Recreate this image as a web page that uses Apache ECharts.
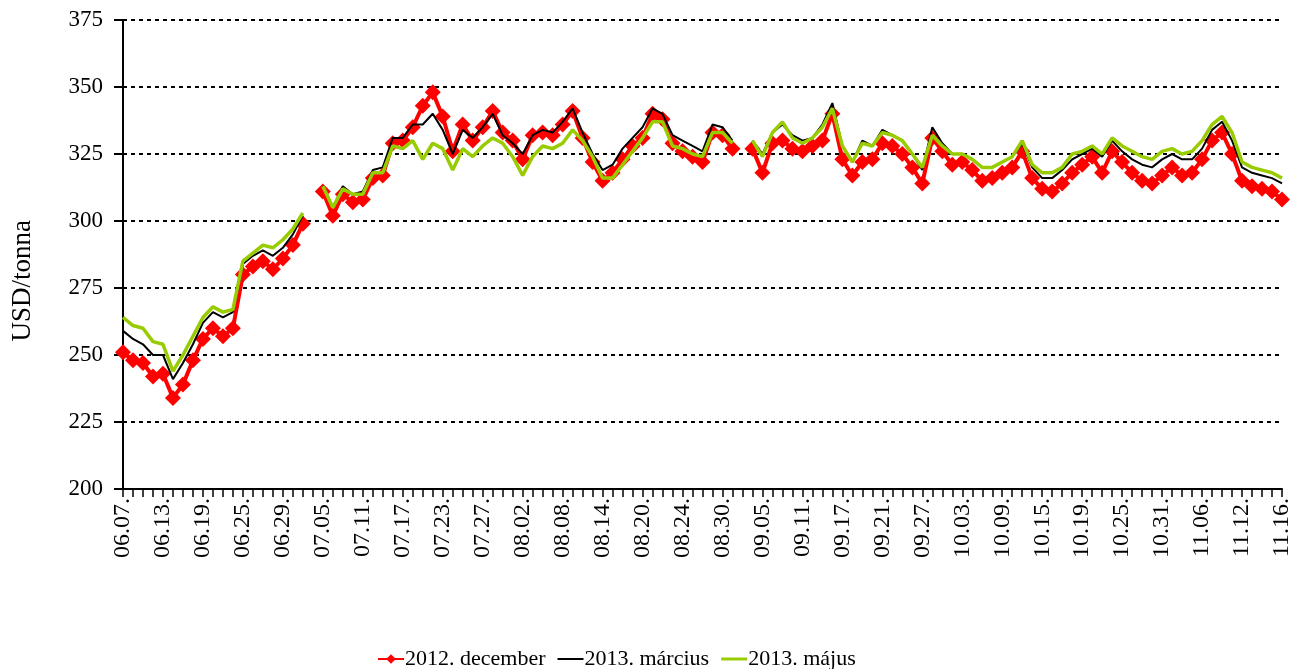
<!DOCTYPE html>
<html>
<head>
<meta charset="utf-8">
<script src="https://cdn.jsdelivr.net/npm/echarts@6/dist/echarts.min.js"></script>
<style>
  html, body { margin: 0; padding: 0; background: #fff; }
  #chart { width: 1294px; height: 669px; }
</style>
</head>
<body>
<div id="chart"></div>
<script>
/* napi adatok, USD/tonna */
var dates = [
  '06.07.','06.08.','06.11.','06.12.','06.13.','06.14.','06.15.','06.18.','06.19.','06.20.','06.21.','06.22.','06.25.','06.26.','06.27.','06.28.','06.29.',
  '07.02.','07.03.','07.04.','07.05.','07.06.','07.09.','07.10.','07.11.','07.12.','07.13.','07.16.','07.17.','07.18.','07.19.','07.20.','07.23.','07.24.','07.25.','07.26.','07.27.','07.30.','07.31.',
  '08.01.','08.02.','08.03.','08.06.','08.07.','08.08.','08.09.','08.10.','08.13.','08.14.','08.15.','08.16.','08.17.','08.20.','08.21.','08.22.','08.23.','08.24.','08.27.','08.28.','08.29.','08.30.','08.31.',
  '09.03.','09.04.','09.05.','09.06.','09.07.','09.10.','09.11.','09.12.','09.13.','09.14.','09.17.','09.18.','09.19.','09.20.','09.21.','09.24.','09.25.','09.26.','09.27.','09.28.',
  '10.01.','10.02.','10.03.','10.04.','10.05.','10.08.','10.09.','10.10.','10.11.','10.12.','10.15.','10.16.','10.17.','10.18.','10.19.','10.22.','10.23.','10.24.','10.25.','10.26.','10.29.','10.30.','10.31.',
  '11.01.','11.02.','11.05.','11.06.','11.07.','11.08.','11.09.','11.12.','11.13.','11.14.','11.15.','11.16.'
];

var dec2012 = [
  251,248,247,242,243,234,239,248,256,260,257,260,280,283,285,282,286,
  291,299,null,311,302,310,307,308,316,317,329,330,335,343,348,339,326,336,330,335,341,333,
  330,323,332,333,332,336,341,331,322,315,318,323,328,331,340,338,329,326,324,322,333,332,327,
  null,327,318,329,330,327,326,328,330,340,323,317,322,323,329,328,325,320,314,331,
  326,321,322,319,315,316,318,320,326,316,312,311,314,318,321,324,318,326,322,318,315,314,317,
  320,317,318,323,330,333,325,315,313,312,311,308
];

var mar2013 = [
  259,256,254,250,250,241,247,254,262,266,264,266,284,287,289,287,290,
  295,302,null,313,305,313,310,311,319,320,331,331,336,336,340,334,325,334,331,335,340,332,
  329,325,332,334,333,337,342,333,325,319,321,327,331,335,342,340,332,330,328,326,336,335,330,
  null,330,325,333,336,332,330,331,336,344,328,322,330,328,334,332,330,325,319,335,
  329,325,325,323,320,320,322,324,329,320,316,316,319,323,325,327,324,330,326,323,321,320,323,
  325,323,323,327,334,337,330,320,318,317,316,314
];

var maj2013 = [
  264,261,260,255,254,244,250,257,264,268,266,267,285,288,291,290,293,
  297,303,null,313,305,312,310,310,318,318,328,327,330,323,329,327,319,327,324,328,331,329,
  324,317,324,328,327,329,334,330,324,316,316,321,326,331,337,337,328,327,325,324,333,333,329,
  null,330,324,333,337,331,329,331,335,342,328,322,329,328,333,332,330,325,320,332,
  328,325,325,323,320,320,322,324,330,321,318,318,320,325,326,328,325,331,328,326,324,323,326,
  327,325,326,330,336,339,333,322,320,319,318,316
];

var seriesNames = ['2012. december', '2013. március', '2013. május'];

var font = '"Liberation Serif", "Times New Roman", serif';

var chart = echarts.init(document.getElementById('chart'));

var option = {
  animation: false,
  backgroundColor: '#ffffff',
  textStyle: { fontFamily: font, color: '#000' },
  grid: { left: 123, top: 20, right: 11, bottom: 180 },
  legend: {
    data: [
      { name: seriesNames[0] },
      { name: seriesNames[1], icon: 'path://M0,0 H26 V2 H0 Z' },
      { name: seriesNames[2], icon: 'path://M0,0 H26 V3 H0 Z' }
    ],
    top: 643,
    left: 372,
    itemWidth: 26,
    itemHeight: 12,
    itemGap: 12,
    textStyle: { fontFamily: font, fontSize: 22, color: '#000', padding: [0, 0, 0, -4] }
  },
  graphic: [{
    type: 'text',
    left: 9,
    top: 220,
    rotation: Math.PI / 2,
    style: { text: 'USD/tonna', font: '27px ' + font, fill: '#000' }
  }],
  xAxis: {
    type: 'category',
    data: dates,
    boundaryGap: false,
    axisLine: { lineStyle: { color: '#000', width: 2 } },
    axisTick: { interval: 0, length: 8, lineStyle: { color: '#000', width: 1.5 } },
    axisLabel: {
      interval: 3,
      rotate: 90,
      margin: 9,
      fontFamily: font,
      fontSize: 24,
      color: '#000'
    },
    splitLine: { show: false }
  },
  yAxis: {
    type: 'value',
    min: 200,
    max: 375,
    interval: 25,
    axisLine: { show: true, lineStyle: { color: '#000', width: 2 } },
    axisTick: { show: true, length: 9, lineStyle: { color: '#000', width: 2 } },
    axisLabel: { fontFamily: font, fontSize: 23, color: '#000', margin: 20 },
    splitLine: { lineStyle: { color: '#000', width: 2, type: [4, 4] } }
  },
  series: [
    {
      name: seriesNames[0],
      type: 'line',
      data: dec2012,
      symbol: 'diamond',
      symbolSize: 16,
      showAllSymbol: true,
      itemStyle: { color: '#ff0000' },
      lineStyle: { color: '#ff0000', width: 4 },
      z: 2
    },
    {
      name: seriesNames[1],
      type: 'line',
      data: mar2013,
      symbol: 'none',
      itemStyle: { color: '#000000' },
      lineStyle: { color: '#000000', width: 2 },
      z: 3
    },
    {
      name: seriesNames[2],
      type: 'line',
      data: maj2013,
      symbol: 'none',
      itemStyle: { color: '#99cc00' },
      lineStyle: { color: '#99cc00', width: 3.5 },
      z: 4
    }
  ]
};

chart.setOption(option);
</script>
</body>
</html>
